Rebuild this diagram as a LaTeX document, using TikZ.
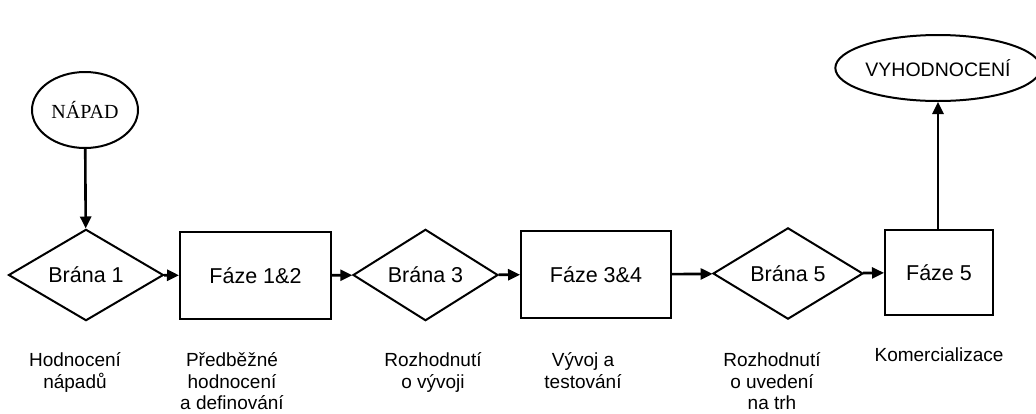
\documentclass[tikz,border=0pt]{standalone}
\usepackage{fontspec}
\setmainfont{Liberation Sans}
\newfontfamily\serifnap{Liberation Serif}
\usetikzlibrary{shapes.geometric,arrows.meta}
\begin{document}
\begin{tikzpicture}[x=1pt,y=-1pt,
  line width=2pt,
  gate/.style={draw,shape=diamond,inner sep=0pt,font=\fontsize{21.5}{24}\selectfont},
  phase/.style={draw,rectangle,inner sep=0pt,font=\fontsize{21.5}{24}\selectfont},
  oval/.style={draw,ellipse,inner sep=0pt},
  lab/.style={align=center,anchor=north,inner sep=0pt,font=\fontsize{19}{21.5}\selectfont},
  arr/.style={line width=2.6pt,-{Triangle[length=12pt,width=11pt]}}]
\useasboundingbox (0,0) rectangle (1036,413);
\node[oval,minimum width=106pt,minimum height=76pt,font=\serifnap\fontsize{20}{22}\selectfont] (napad) at (85,110) {NÁPAD};
\node[oval,minimum width=192pt,minimum height=66pt,font=\fontsize{19.5}{22}\selectfont] (vyh) at (938,68) {VYHODNOCENÍ};
\node[gate,minimum width=155pt,minimum height=86pt] (b1) at (86,275) {Brána 1};
\node[phase,minimum width=151pt,minimum height=87pt] (f12) at (255.5,275.5) {Fáze 1\&2};
\node[gate,minimum width=145pt,minimum height=86pt] (b3) at (425.5,275) {Brána 3};
\node[phase,minimum width=150pt,minimum height=87pt] (f34) at (596,274.5) {Fáze 3\&4};
\node[gate,minimum width=150pt,minimum height=87pt] (b5) at (788,273.5) {Brána 5};
\node[phase,minimum width=108pt,minimum height=85pt] (f5) at (939,272.5) {Fáze 5};
\draw[arr] (napad) -- (b1);
\draw[arr] (b1) -- (f12);
\draw[arr] (f12) -- (b3);
\draw[arr] (b3) -- (f34);
\draw[arr] (f34) -- (b5);
\draw[arr] (b5) -- (f5);
\draw[arr] (f5.north -| vyh.south) -- (vyh.south);
\node[lab] (l1) at (75,352) {Hodnocení\\nápadů};
\node[lab] (l2) at (232,352) {Předběžné\\hodnocení\\a definování};
\node[lab] (l3) at (433,352) {Rozhodnutí\\o vývoji};
\node[lab] (l4) at (583,352) {Vývoj a\\testování};
\node[lab] (l5) at (772,352) {Rozhodnutí\\o uvedení\\na trh};
\node[lab] (l6) at (939,347) {Komercializace};
\end{tikzpicture}
\end{document}
